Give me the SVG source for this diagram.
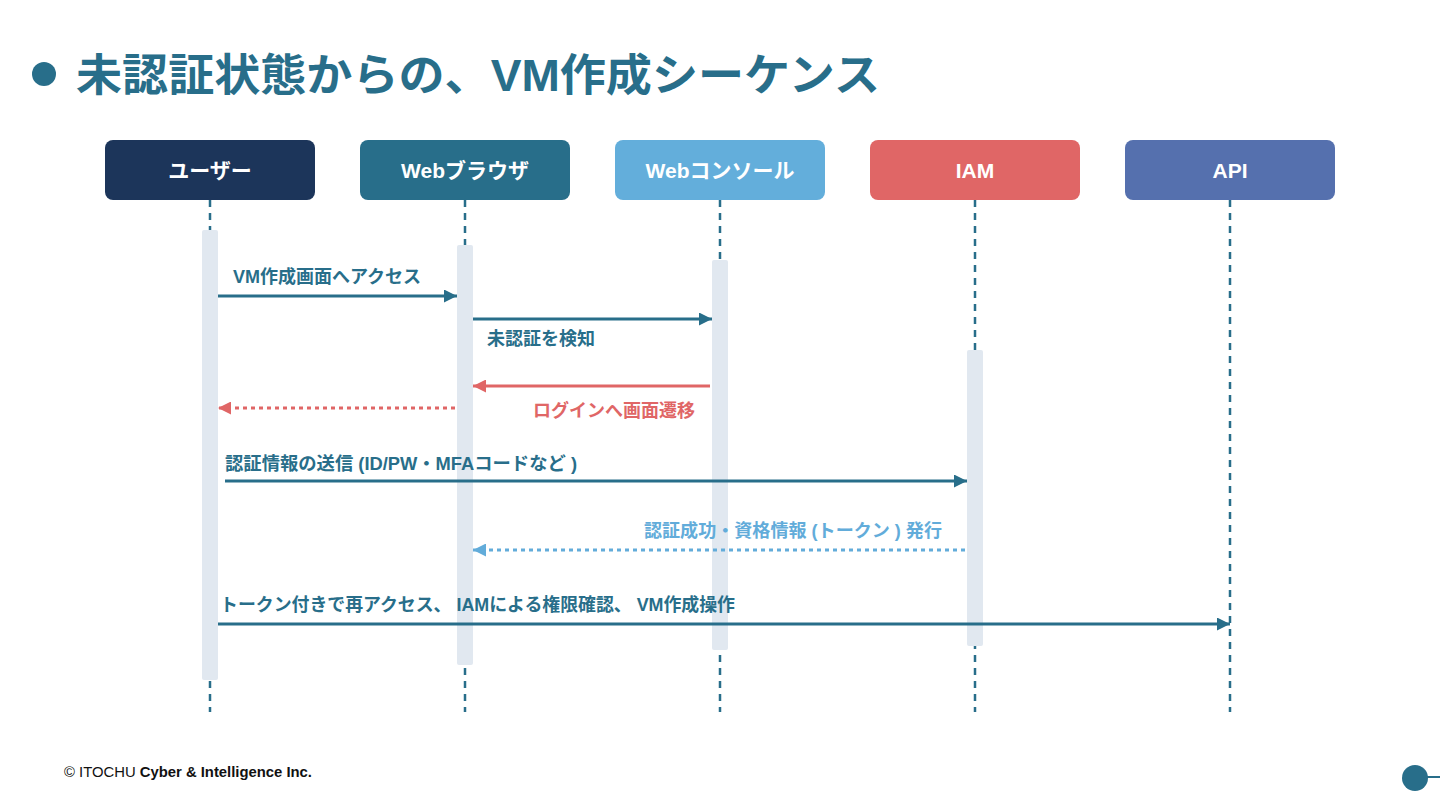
<svg xmlns="http://www.w3.org/2000/svg" width="1440" height="810" viewBox="0 0 1440 810">
<defs>
<style>
text{font-family:"Liberation Sans","Noto Sans CJK JP",sans-serif;font-weight:bold}
.title{font-size:44px;fill:#286e8a}
.hd{font-size:21px;fill:#ffffff;text-anchor:middle}
.life{stroke:#286e8a;stroke-width:2.5;stroke-dasharray:7 6;fill:none}
.act{fill:#e1e8f0}
.lbl{font-size:18px}
.blue{fill:#286e8a}
.red{fill:#e06666}
.lb{fill:#62acda}
.m{fill:none;stroke-width:3}
text.foot{font-size:14px;fill:#111111;font-weight:normal}
.foot tspan.b{font-weight:bold}
</style>
<marker id="aB" viewBox="0 0 10 10" refX="10" refY="5" markerWidth="15" markerHeight="13" markerUnits="userSpaceOnUse" orient="auto"><path d="M0,0L10,5L0,10z" fill="#286e8a"/></marker>
<marker id="aR" viewBox="0 0 10 10" refX="10" refY="5" markerWidth="15" markerHeight="13" markerUnits="userSpaceOnUse" orient="auto"><path d="M0,0L10,5L0,10z" fill="#e06666"/></marker>
<marker id="aL" viewBox="0 0 10 10" refX="10" refY="5" markerWidth="15" markerHeight="13" markerUnits="userSpaceOnUse" orient="auto"><path d="M0,0L10,5L0,10z" fill="#62acda"/></marker>
</defs>
<rect width="1440" height="810" fill="#ffffff"/>
<g id="title">
<circle cx="44" cy="74" r="12" fill="#286e8a"/>
<text class="title" x="76" y="91" textLength="804" lengthAdjust="spacingAndGlyphs">未認証状態からの、VM作成シーケンス</text>
</g>
<g id="lifelines">
<line class="life" x1="210" y1="200" x2="210" y2="712"/>
<line class="life" x1="465" y1="200" x2="465" y2="712"/>
<line class="life" x1="720" y1="200" x2="720" y2="712"/>
<line class="life" x1="975" y1="200" x2="975" y2="712"/>
<line class="life" x1="1230" y1="200" x2="1230" y2="712"/>
</g>
<g id="activations">
<rect class="act" x="202" y="230" width="16" height="450" rx="2"/>
<rect class="act" x="457" y="245" width="16" height="420" rx="2"/>
<rect class="act" x="712" y="260" width="16" height="390" rx="2"/>
<rect class="act" x="967" y="350" width="16" height="296" rx="2"/>
</g>
<g id="user"><rect x="105" y="140" width="210" height="60" rx="8" fill="#1c355a"/><text class="hd" x="210" y="178">ユーザー</text></g>
<g id="browser"><rect x="360" y="140" width="210" height="60" rx="8" fill="#286e8a"/><text class="hd" x="465" y="178">Webブラウザ</text></g>
<g id="console"><rect x="615" y="140" width="210" height="60" rx="8" fill="#63aedb"/><text class="hd" x="720" y="178">Webコンソール</text></g>
<g id="iam"><rect x="870" y="140" width="210" height="60" rx="8" fill="#e06666"/><text class="hd" x="975" y="178">IAM</text></g>
<g id="api"><rect x="1125" y="140" width="210" height="60" rx="8" fill="#5570ae"/><text class="hd" x="1230" y="178">API</text></g>
<g id="connectors">
<line class="m" x1="218" y1="296" x2="457" y2="296" stroke="#286e8a" marker-end="url(#aB)"/>
<line class="m" x1="473" y1="319" x2="712" y2="319" stroke="#286e8a" marker-end="url(#aB)"/>
<line class="m" x1="710" y1="386" x2="473" y2="386" stroke="#e06666" marker-end="url(#aR)"/>
<line class="m" x1="455" y1="408" x2="218" y2="408" stroke="#e06666" stroke-width="4" stroke-dasharray="4 4" marker-end="url(#aR)"/>
<line class="m" x1="225" y1="481" x2="967" y2="481" stroke="#286e8a" marker-end="url(#aB)"/>
<line class="m" x1="965" y1="550" x2="473" y2="550" stroke="#62acda" stroke-width="4" stroke-dasharray="4 4" marker-end="url(#aL)"/>
<line class="m" x1="218" y1="624" x2="1230" y2="624" stroke="#286e8a" marker-end="url(#aB)"/>
</g>
<g id="labels">
<text class="lbl blue" x="233" y="283">VM作成画面へアクセス</text>
<text class="lbl blue" x="487" y="345">未認証を検知</text>
<text class="lbl red" x="695" y="417" text-anchor="end">ログインへ画面遷移</text>
<text class="lbl blue" x="225" y="470" textLength="352" lengthAdjust="spacingAndGlyphs">認証情報の送信 (ID/PW・MFAコードなど )</text>
<text class="lbl lb" x="942" y="537" text-anchor="end" textLength="298" lengthAdjust="spacingAndGlyphs">認証成功・資格情報 (トークン ) 発行</text>
<text class="lbl blue" x="220" y="611" textLength="515" lengthAdjust="spacingAndGlyphs">トークン付きで再アクセス、 IAMによる権限確認、 VM作成操作</text>
</g>
<g id="footer">
<text class="foot" x="64" y="777" textLength="248" lengthAdjust="spacingAndGlyphs">© ITOCHU <tspan class="b">Cyber &amp; Intelligence Inc.</tspan></text>
<line x1="1415" y1="777" x2="1440" y2="777" stroke="#286e8a" stroke-width="2"/>
<circle cx="1415" cy="778" r="13" fill="#286e8a"/>
</g>
</svg>
